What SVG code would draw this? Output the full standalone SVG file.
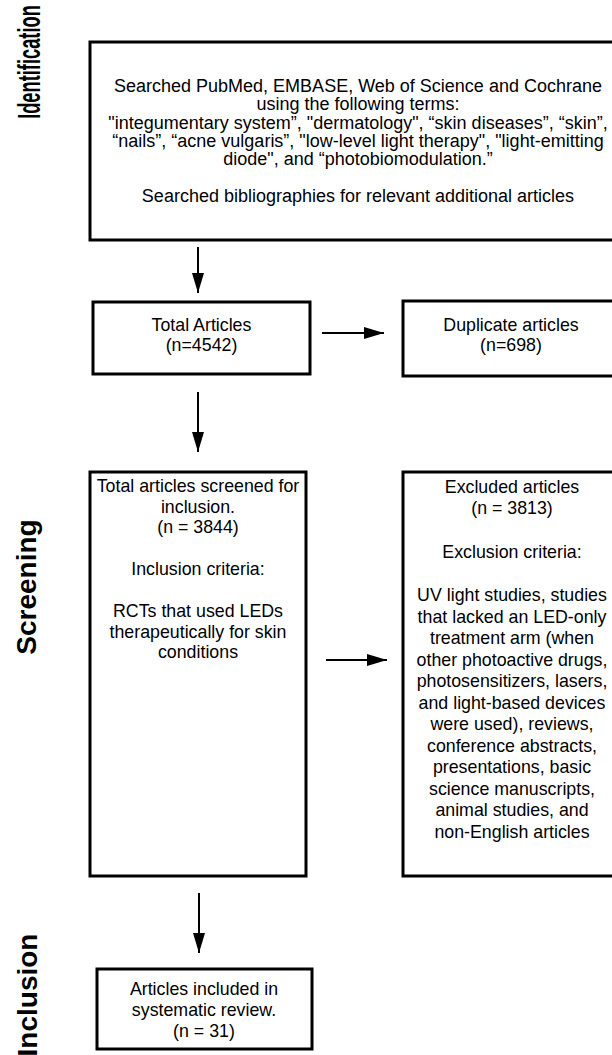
<svg xmlns="http://www.w3.org/2000/svg" width="612" height="1055" viewBox="0 0 612 1055">
<style>
.box{fill:#fff;stroke:#000;stroke-width:3}
.t{font-family:"Liberation Sans",Arial,sans-serif;font-size:17.8px;fill:#000;text-anchor:middle}
.tt{font-family:"Liberation Sans",Arial,sans-serif;font-size:18px;fill:#000;text-anchor:middle}
.lab{font-family:"Liberation Sans",Arial,sans-serif;font-size:28px;font-weight:bold;fill:#000;text-anchor:middle}
.c{stroke:#000;stroke-width:2;fill:none}
</style>
<defs>
<marker id="ah" markerUnits="userSpaceOnUse" markerWidth="20" markerHeight="12" refX="20" refY="6" orient="auto">
<path d="M0,0 L20,6 L0,12 z" fill="#000"/>
</marker>
</defs>
<rect width="612" height="1055" fill="#fff"/>
<g id="labels">
<text class="lab" style="font-size:31px" transform="translate(40,62) rotate(-90) scale(0.59,1)">Identification</text>
<text class="lab" transform="translate(36,587) rotate(-90)">Screening</text>
<text class="lab" transform="translate(37,995) rotate(-90)">Inclusion</text>
</g>
<g id="connectors">
<line class="c" x1="198" y1="247" x2="198" y2="293" marker-end="url(#ah)"/>
<line class="c" x1="322" y1="333" x2="384" y2="333" marker-end="url(#ah)"/>
<line class="c" x1="198" y1="392" x2="198" y2="452" marker-end="url(#ah)"/>
<line class="c" x1="326" y1="660" x2="387" y2="660" marker-end="url(#ah)"/>
<line class="c" x1="199" y1="893" x2="199" y2="953" marker-end="url(#ah)"/>
</g>
<g id="search">
<rect class="box" x="90" y="42" width="560" height="198"/>
<text class="tt" x="358" y="92">Searched PubMed, EMBASE, Web of Science and Cochrane</text>
<text class="tt" x="358" y="110">using the following terms:</text>
<text class="tt" x="358" y="128.5">"integumentary system”, "dermatology", “skin diseases”, “skin”,</text>
<text class="tt" x="358" y="147">“nails”, “acne vulgaris”, "low-level light therapy", "light-emitting</text>
<text class="tt" x="358" y="165">diode", and “photobiomodulation.”</text>
<text class="tt" x="358" y="202">Searched bibliographies for relevant additional articles</text>
</g>
<g id="total">
<rect class="box" x="93" y="302" width="217" height="72"/>
<text class="t" x="201.5" y="331">Total Articles</text>
<text class="t" x="201.5" y="351">(n=4542)</text>
</g>
<g id="duplicate">
<rect class="box" x="403" y="301" width="220" height="75"/>
<text class="t" x="511" y="331">Duplicate articles</text>
<text class="t" x="511" y="351">(n=698)</text>
</g>
<g id="screened">
<rect class="box" x="90" y="472" width="216" height="404"/>
<text class="t" x="198" y="492">Total articles screened for</text>
<text class="t" x="198" y="513">inclusion.</text>
<text class="t" x="198" y="533">(n = 3844)</text>
<text class="t" x="198" y="575">Inclusion criteria:</text>
<text class="t" x="198" y="617">RCTs that used LEDs</text>
<text class="t" x="198" y="638">therapeutically for skin</text>
<text class="t" x="198" y="658">conditions</text>
</g>
<g id="excluded">
<rect class="box" x="403" y="472" width="220" height="404"/>
<text class="t" x="512" y="493">Excluded articles</text>
<text class="t" x="512" y="514">(n = 3813)</text>
<text class="t" x="512" y="558">Exclusion criteria:</text>
<text class="t" x="512" y="601">UV light studies, studies</text>
<text class="t" x="512" y="622.5">that lacked an LED-only</text>
<text class="t" x="512" y="644">treatment arm (when</text>
<text class="t" x="512" y="665.5">other photoactive drugs,</text>
<text class="t" x="512" y="687">photosensitizers, lasers,</text>
<text class="t" x="512" y="708.5">and light-based devices</text>
<text class="t" x="512" y="730">were used), reviews,</text>
<text class="t" x="512" y="751.5">conference abstracts,</text>
<text class="t" x="512" y="773">presentations, basic</text>
<text class="t" x="512" y="794.5">science manuscripts,</text>
<text class="t" x="512" y="816">animal studies, and</text>
<text class="t" x="512" y="837.5">non-English articles</text>
</g>
<g id="included">
<rect class="box" x="97" y="969" width="215" height="80"/>
<text class="t" x="204" y="995">Articles included in</text>
<text class="t" x="204" y="1016">systematic review.</text>
<text class="t" x="204" y="1037">(n = 31)</text>
</g>
</svg>
